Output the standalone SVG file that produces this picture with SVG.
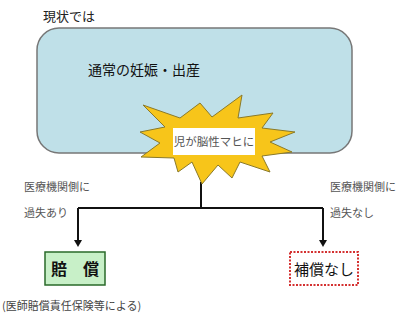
<svg xmlns="http://www.w3.org/2000/svg" width="398" height="320" viewBox="0 0 398 320">
<defs>
<style>
text{font-family:"Noto Sans CJK JP","Liberation Sans",sans-serif;}
.lbl{font-size:11px;fill:#555;}
.conn{stroke:#111;stroke-width:2;fill:none;}
</style>
<marker id="ah" markerWidth="8" markerHeight="8" refX="4" refY="6" orient="auto" markerUnits="userSpaceOnUse" viewBox="0 0 8 8">
<path d="M0,0 L8,0 L4,7 Z" fill="#111" transform="rotate(-90 4 4)"/>
</marker>
</defs>
<rect width="398" height="320" fill="#fff"/>
<text x="43" y="21" font-size="13" fill="#222">現状では</text>
<g id="normal">
<rect x="37" y="28" width="315" height="125" rx="22" fill="#bfe0e8" stroke="#777" stroke-width="1.5"/>
<text x="88" y="75" font-size="14" fill="#111">通常の妊娠・出産</text>
</g>
<g id="connectors">
<path class="conn" d="M201,182 V208"/>
<path class="conn" d="M78,208 H323"/>
<path class="conn" d="M78,208 V244"/>
<path class="conn" d="M323,208 V244"/>
<path d="M74,240 L82,240 L78,247 Z" fill="#111"/>
<path d="M319,240 L327,240 L323,247 Z" fill="#111"/>
</g>
<g id="star">
<polygon points="143,105 180,118 200,103 212,117 242,95 238,118 273,113 262,128 295,132 270,142 292,152 262,156 270,172 240,162 232,178 218,165 202,184 192,162 178,172 174,158 141,157 160,143 140,132 165,127" fill="#f7c51a" stroke="#8a7a2a" stroke-width="1"/>
<rect x="173" y="128" width="82" height="27" fill="#fff"/>
<text x="214" y="146" font-size="11.5" fill="#555" text-anchor="middle">児が脳性マヒに</text>
</g>
<g id="labels">
<text class="lbl" x="24" y="191">医療機関側に</text>
<text class="lbl" x="24" y="217">過失あり</text>
<text class="lbl" x="330" y="191">医療機関側に</text>
<text class="lbl" x="330" y="217">過失なし</text>
</g>
<g id="baisho">
<rect x="45" y="252" width="60" height="33" fill="#c8f0c8" stroke="#2a6a2a" stroke-width="1.5"/>
<text x="75" y="275" font-size="16" font-weight="bold" fill="#111" text-anchor="middle">賠　償</text>
</g>
<g id="hoshonashi">
<rect x="290" y="252" width="68" height="33" fill="#fff" stroke="#d43030" stroke-width="2" stroke-dasharray="2,1.5"/>
<text x="324" y="275" font-size="15" fill="#111" text-anchor="middle">補償なし</text>
</g>
<text x="2" y="310" font-size="11" fill="#444">(医師賠償責任保険等による)</text>
</svg>
